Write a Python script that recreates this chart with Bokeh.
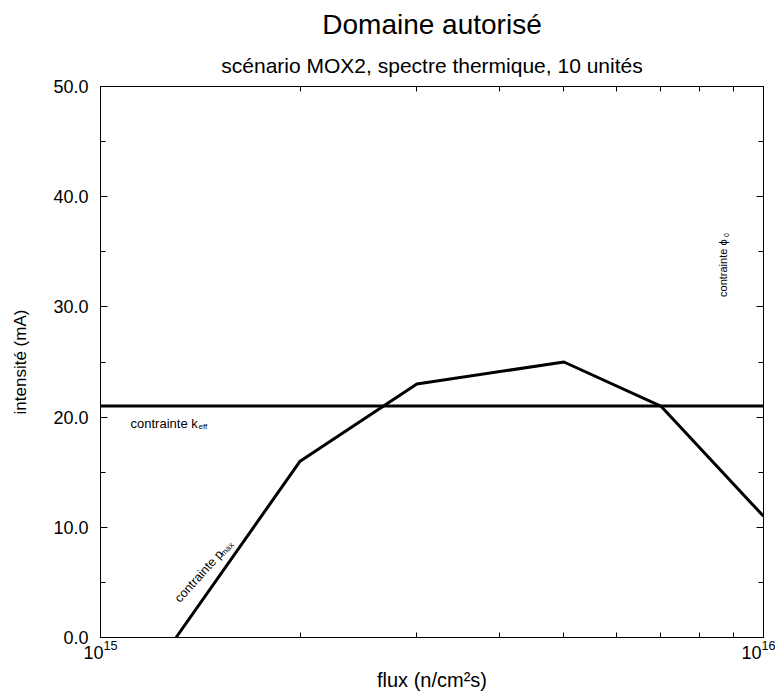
from bokeh.plotting import figure
from bokeh.models import (Range1d, LogAxis, LinearAxis, FixedTicker,
                          PrintfTickFormatter, Title, Span)
from bokeh.core.properties import value
from bokeh.embed import file_html
from bokeh.resources import INLINE
import math

# ---- data ----
flux = [1.3e15, 2e15, 3e15, 5e15, 7e15, 1e16]
intensite = [0.0, 16.0, 23.0, 25.0, 21.0, 11.0]
keff_limit = 21.0
x_major = [1e15, 1e16]
x_minor = [2e15, 3e15, 4e15, 5e15, 6e15, 7e15, 8e15, 9e15]
y_major = [0, 10, 20, 30, 40, 50]
y_minor = [5, 15, 25, 35, 45]

FONT = "Liberation Sans"

p = figure(width=775, height=694, x_axis_type="log",
           x_range=Range1d(1e15, 1e16), y_range=Range1d(0, 50),
           output_backend="svg", toolbar_location=None, title=None,
           min_border_left=100, min_border_right=12,
           min_border_top=86, min_border_bottom=57)

p.grid.visible = False
p.outline_line_color = "black"
p.outline_line_width = 1
p.background_fill_color = "white"
p.border_fill_color = "white"

def style_axis(ax, ticker, show_labels, tick_in=7, minor_in=5):
    ax.ticker = ticker
    ax.major_tick_in = tick_in
    ax.major_tick_out = 0
    ax.minor_tick_in = minor_in
    ax.minor_tick_out = 0
    ax.axis_line_color = "black"
    ax.major_tick_line_color = "black"
    ax.minor_tick_line_color = "black"
    ax.major_label_text_font = FONT
    ax.major_label_text_color = "black"
    ax.axis_label_text_font = FONT
    ax.axis_label_text_font_style = "normal"
    ax.axis_label_text_color = "black"
    if not show_labels:
        ax.major_label_text_font_size = "2px"
        ax.major_label_text_alpha = 0
        ax.major_label_standoff = 0

# bottom x axis
xax = p.xaxis[0]
style_axis(xax, FixedTicker(ticks=x_major, minor_ticks=x_minor), True)
xax.major_label_text_font_size = "18px"
xax.major_label_standoff = 2
xax.axis_label = "flux (n/cm²s)"
xax.axis_label_text_font_size = "20px"
xax.axis_label_standoff = 7

# left y axis
yax = p.yaxis[0]
style_axis(yax, FixedTicker(ticks=y_major, minor_ticks=y_minor), True)
yax.formatter = PrintfTickFormatter(format="%.1f")
yax.major_label_text_font_size = "18px"
yax.major_label_standoff = 12
yax.axis_label = "intensité (mA)"
yax.axis_label_text_font_size = "17px"
yax.axis_label_standoff = 20

# top and right axes (ticks only)
top = LogAxis()
style_axis(top, FixedTicker(ticks=x_major, minor_ticks=x_minor), False)
top.major_label_standoff = 3
p.add_layout(top, "above")
right = LinearAxis()
style_axis(right, FixedTicker(ticks=y_major, minor_ticks=y_minor), False)
p.add_layout(right, "right")

# titles
p.add_layout(Title(text="scénario MOX2, spectre thermique, 10 unités",
                   align="center", text_font=FONT, text_font_size="21px",
                   text_font_style="normal", text_color="black",
                   standoff=19), "above")
p.add_layout(Title(text="Domaine autorisé", align="center", text_font=FONT,
                   text_font_size="28px", text_font_style="normal",
                   text_color="black", standoff=5), "above")

# curves
p.add_layout(Span(location=keff_limit, dimension="width",
                  line_color="black", line_width=3))
p.line(flux, intensite, line_color="black", line_width=3)

# constraint labels
p.text(x=[1.11e15], y=[19.4], text=["contrainte k"], text_font=value(FONT),
       text_font_size="13px", text_color="black", text_baseline="alphabetic")
p.text(x=[1.11e15], y=[19.4], text=["eff"], text_font=value(FONT),
       text_font_size="8px", text_color="black", text_baseline="alphabetic",
       x_offset=68, y_offset=3)

ang = math.radians(48)
d, s = 64, 3
p.text(x=[1.305e15], y=[3.36], text=["contrainte p"], text_font=value(FONT),
       text_font_size="12.5px", text_color="black", text_baseline="alphabetic",
       angle=ang)
p.text(x=[1.305e15], y=[3.36], text=["max"], text_font=value(FONT),
       text_font_size="8px", text_color="black", text_baseline="alphabetic",
       angle=ang, x_offset=d * math.cos(ang) + s * math.sin(ang),
       y_offset=-d * math.sin(ang) + s * math.cos(ang))

p.text(x=[8.70e15], y=[30.9], text=["contrainte ϕ"], text_font=value(FONT),
       text_font_size="11px", text_color="black", text_baseline="alphabetic",
       angle=math.pi / 2)
p.text(x=[8.70e15], y=[30.9], text=["0"], text_font=value(FONT),
       text_font_size="7px", text_color="black", text_baseline="alphabetic",
       angle=math.pi / 2, x_offset=3, y_offset=-60)

open("out.html", "w").write(file_html(p, INLINE))
